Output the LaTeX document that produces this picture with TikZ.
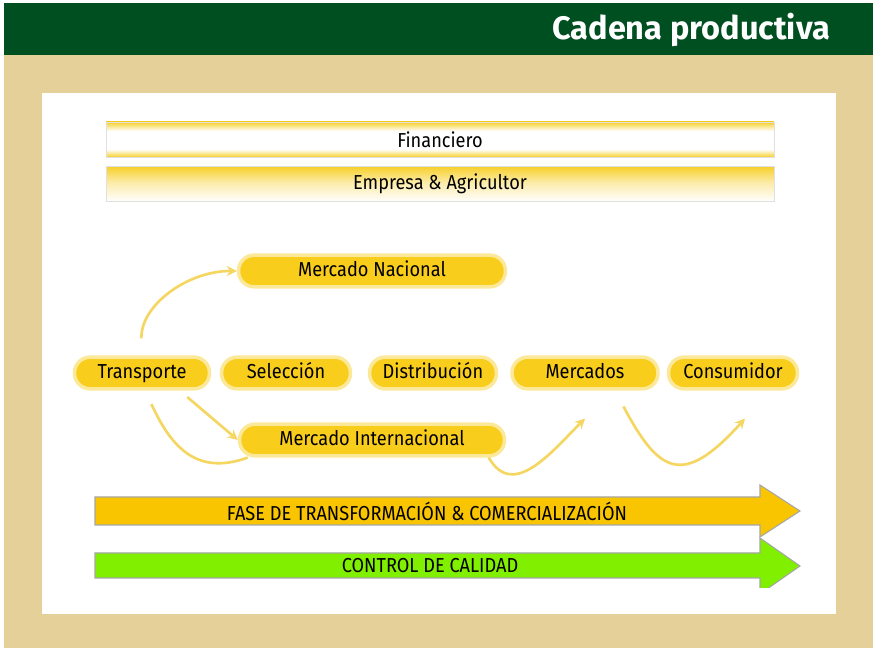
\documentclass[tikz,border=0pt]{standalone}
\usepackage{fontspec}
\setmainfont{Fira Sans}
\newfontfamily\labelfont{Fira Sans}[FakeStretch=0.9]
\newfontfamily\titlefont{Fira Sans}
\usetikzlibrary{shapes.geometric, arrows, positioning}
\definecolor{darkgreen}{RGB}{0,79,33}
\definecolor{tan}{RGB}{229,208,154}
\definecolor{gold}{RGB}{249,205,28}
\definecolor{bandgold}{RGB}{247,208,45}
\definecolor{amber}{RGB}{249,196,0}
\definecolor{lime}{RGB}{128,240,0}
\definecolor{curvecol}{RGB}{244,214,96}
\pgfdeclareverticalshading{twoedge}{100bp}{color(0bp)=(bandgold); color(25bp)=(bandgold); color(36bp)=(white); color(62bp)=(white); color(75bp)=(bandgold); color(100bp)=(bandgold)}
\pgfdeclareverticalshading{topedge}{100bp}{color(0bp)=(white); color(25bp)=(white); color(52bp)=(white!60!bandgold); color(75bp)=(bandgold); color(100bp)=(bandgold)}
\tikzstyle{capsule} = [rectangle, rounded corners=0.31cm, minimum height=0.62cm, text centered, text height=1.7ex, text depth=0.45ex, fill=gold, draw=gold!45, line width=2pt, font=\labelfont\fontsize{11.5}{13}\selectfont]
\tikzstyle{band} = [rectangle, minimum width=13.36cm, minimum height=0.7cm, text centered, draw=black!12, font=\labelfont\fontsize{11.5}{13}\selectfont]
\tikzstyle{phase} = [draw=black!35, line width=0.6pt]
\tikzstyle{phaselabel} = [font=\labelfont\fontsize{11.5}{13}\selectfont, inner sep=0pt]
\tikzstyle{arrow} = [draw=curvecol, line width=1.5pt, ->, >=stealth]
\tikzstyle{line} = [draw=curvecol, line width=1.5pt]

\begin{document}
\begin{tikzpicture}[x=0.02cm, y=-0.02cm]
    \useasboundingbox (0,0) rectangle (877,651);

        % Background
        \fill[tan] (4,3) rectangle (873,648);
        \fill[darkgreen] (4,3) rectangle (873,55);
        \fill[white] (42,93) rectangle (836,614);
        \node (title) [anchor=east, text=white, font=\titlefont\bfseries\fontsize{18.5}{22}\selectfont] at (836,30) {Cadena productiva};

        % Nodes
        \node (financiero) [band, shading=twoedge] at (440,139.5) {Financiero};
        \node (empresa) [band, shading=topedge, below=0.18cm of financiero] {Empresa \& Agricultor};
        \node (nacional) [capsule, minimum width=5.34cm] at (372,271) {Mercado Nacional};
        \node (transporte) [capsule, minimum width=2.7cm] at (142,373) {Transporte};
        \node (seleccion) [capsule, minimum width=2.58cm] at (286,373) {Selección};
        \node (distribucion) [capsule, minimum width=2.54cm] at (433,373) {Distribución};
        \node (mercados) [capsule, minimum width=2.92cm] at (585,373) {Mercados};
        \node (consumidor) [capsule, minimum width=2.58cm] at (733,373) {Consumidor};
        \node (internacional) [capsule, minimum width=5.3cm] at (372,440) {Mercado Internacional};
        \coordinate (mercadosin) at ([yshift=-0.56cm]mercados.south);
        \coordinate (consumidorin) at ([xshift=0.24cm, yshift=-0.56cm]consumidor.south);

        % Arrows
        \draw [arrow, shorten <=0.34cm] (transporte.north) to[out=92, in=180] (nacional.west);
        \draw [arrow, shorten <=0.2cm] (transporte.-25) -- (internacional.west);
        \draw [line, shorten <=0.3cm] (transporte.-80) to[out=-65, in=200, looseness=1.2] ([xshift=0.2cm]internacional.south west);
        \draw [arrow] ([xshift=-0.35cm]internacional.south east) to[out=-60, in=225, looseness=1.2] (mercadosin);
        \draw [arrow, shorten <=0.36cm] ([xshift=0.6cm]mercados.south) to[out=-62, in=228, looseness=1.8] (consumidorin);

        % Phases
        \draw [phase, fill=amber] (95,497) -- (760,497) -- (760,485) -- (800,511) -- (760,537) -- (760,525) -- (95,525) -- cycle;
        \node (fase) [phaselabel] at (427,511) {FASE DE TRANSFORMACIÓN \& COMERCIALIZACIÓN};
        \begin{scope}
            \clip (0,530) rectangle (877,588);
            \draw [phase, fill=lime] (95,553) -- (760,553) -- (760,538) -- (800,566) -- (760,594) -- (760,578) -- (95,578) -- cycle;
        \end{scope}
        \node (calidad) [phaselabel] at (430,566) {CONTROL DE CALIDAD};

    \end{tikzpicture}
\end{document}
